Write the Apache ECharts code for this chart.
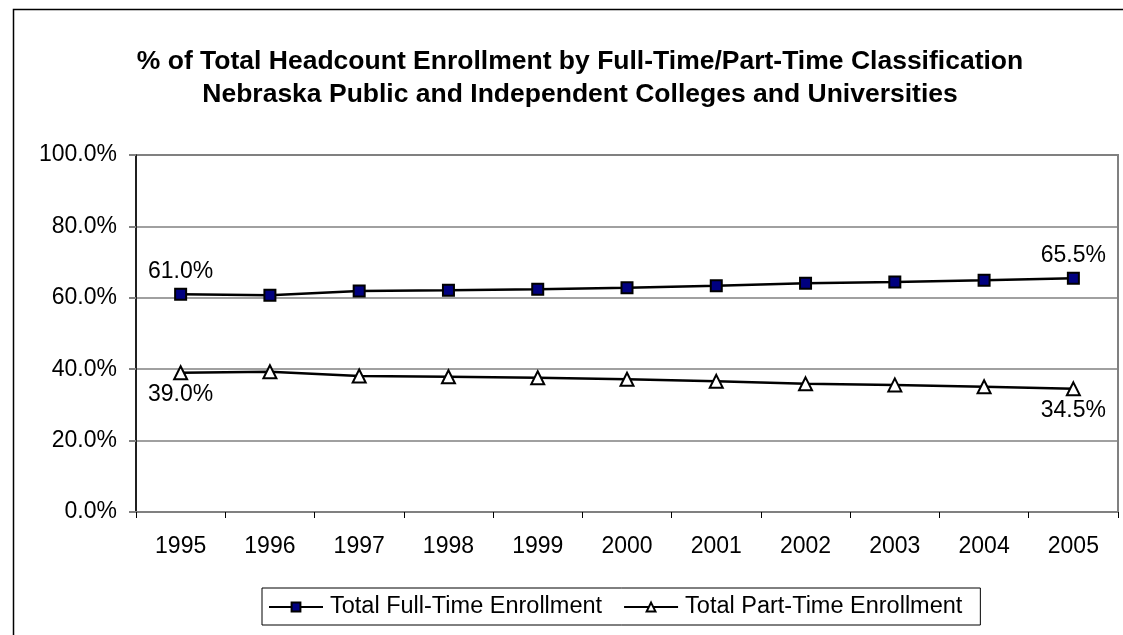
<!DOCTYPE html>
<html>
<head>
<meta charset="utf-8">
<script src="https://cdn.jsdelivr.net/npm/echarts@6/dist/echarts.min.js"></script>
<style>
  html, body { margin: 0; padding: 0; background: #fff; }
  #chart { width: 1123px; height: 635px; }
</style>
</head>
<body>
<div id="chart"></div>
<script>
var years = ["1995", "1996", "1997", "1998", "1999", "2000", "2001", "2002", "2003", "2004", "2005"];
var fullTime = [61.0, 60.7, 61.9, 62.1, 62.4, 62.8, 63.4, 64.1, 64.4, 64.9, 65.5];
var partTime = [39.0, 39.3, 38.1, 37.9, 37.6, 37.2, 36.6, 35.9, 35.6, 35.1, 34.5];
var titleLines = [
  "% of Total Headcount Enrollment by Full-Time/Part-Time Classification",
  "Nebraska Public and Independent Colleges and Universities"
];

var font = '"Liberation Sans", Arial, sans-serif';

// only the first and last points carry a label
function endLabel(p) {
  if (p.dataIndex === 0 || p.dataIndex === years.length - 1) {
    return p.value.toFixed(1) + "%";
  }
  return "";
}

var myChart = echarts.init(document.getElementById("chart"));
myChart.setOption({
  animation: false,
  textStyle: { fontFamily: font },
  graphic: [
    {
      type: "rect",
      shape: { x: 13.5, y: 9.5, width: 1300, height: 800 },
      style: { fill: "none", stroke: "#000", lineWidth: 1.5 },
      silent: true
    }
  ],
  title: {
    text: titleLines.join("\n"),
    left: 575,
    top: 40,
    textAlign: "center",
    textStyle: {
      fontFamily: font,
      fontSize: 26.5,
      fontWeight: "bold",
      color: "#000",
      lineHeight: 33
    }
  },
  grid: {
    left: 136,
    top: 155,
    right: 5,
    bottom: 123,
    show: true,
    borderColor: "#808080",
    borderWidth: 2,
    backgroundColor: "#fff"
  },
  xAxis: {
    type: "category",
    data: years,
    boundaryGap: true,
    axisLine: { lineStyle: { color: "#808080", width: 2 } },
    axisTick: { show: true, length: 6, interval: 0, lineStyle: { color: "#000" } },
    axisLabel: { color: "#000", fontSize: 23, margin: 23, fontFamily: font }
  },
  yAxis: {
    type: "value",
    min: 0,
    max: 100,
    interval: 20,
    axisLine: { show: true, lineStyle: { color: "#000", width: 1.5 } },
    axisTick: { show: true, length: 7, lineStyle: { color: "#808080", width: 2 } },
    axisLabel: {
      color: "#000",
      fontSize: 23,
      margin: 19,
      fontFamily: font,
      formatter: function (v) { return v.toFixed(1) + "%"; }
    },
    splitLine: { lineStyle: { color: "#808080", width: 1.5 } }
  },
  legend: {
    bottom: 10,
    left: 262,
    itemWidth: 54,
    itemHeight: 11,
    itemGap: 21,
    padding: [7, 18, 6, 6],
    borderColor: "#000",
    borderWidth: 1,
    textStyle: { color: "#000", fontSize: 23.5, fontFamily: font, padding: [0, 0, 0, 2] },
    data: ["Total Full-Time Enrollment", "Total Part-Time Enrollment"]
  },
  series: [
    {
      name: "Total Full-Time Enrollment",
      type: "line",
      data: fullTime,
      symbol: "rect",
      symbolSize: 11,
      lineStyle: { color: "#000", width: 2.5 },
      itemStyle: { color: "#000080", borderColor: "#000", borderWidth: 2 },
      label: {
        show: true,
        position: "top",
        distance: 5,
        color: "#000",
        fontSize: 23,
        fontFamily: font,
        formatter: endLabel
      }
    },
    {
      name: "Total Part-Time Enrollment",
      type: "line",
      data: partTime,
      symbol: "triangle",
      symbolSize: 13,
      lineStyle: { color: "#000", width: 2.5 },
      itemStyle: { color: "#fff", borderColor: "#000", borderWidth: 2 },
      label: {
        show: true,
        position: "bottom",
        distance: 3,
        color: "#000",
        fontSize: 23,
        fontFamily: font,
        formatter: endLabel
      }
    }
  ]
});
</script>
</body>
</html>
